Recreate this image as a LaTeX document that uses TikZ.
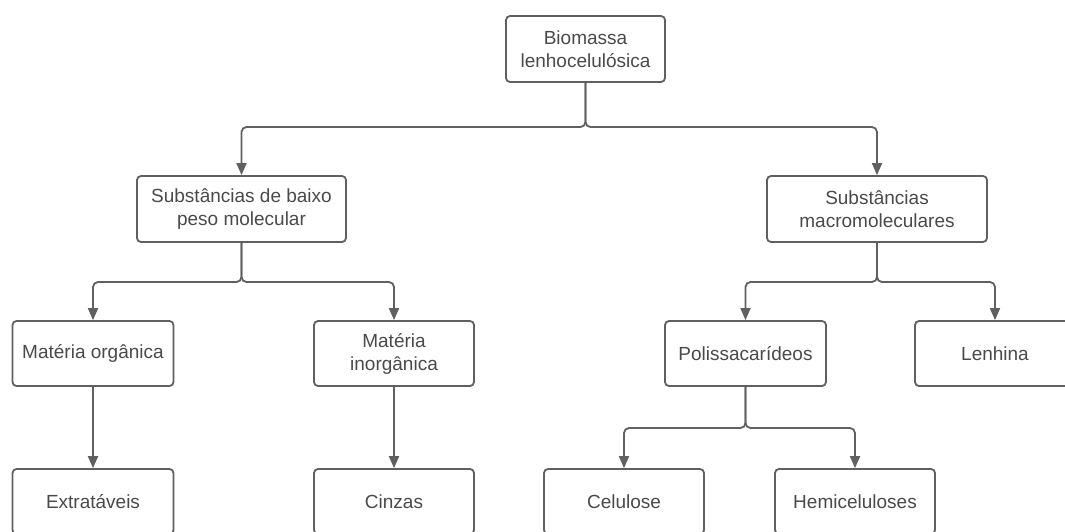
\documentclass[tikz,border=0pt]{standalone}
\usepackage{fontspec}
\setmainfont{Liberation Sans}
\usetikzlibrary{arrows.meta}
\definecolor{linec}{HTML}{606060}
\definecolor{textc}{HTML}{4A4A4A}
\begin{document}
\begin{tikzpicture}[x=1pt,y=-1pt,
  box/.style={draw=linec, line width=1.8pt, rounded corners=4pt, fill=white,
    minimum height=66pt, align=center, text=textc, inner sep=2pt,
    font=\fontsize{19}{23}\selectfont},
  conn/.style={draw=linec, line width=1.8pt, rounded corners=5pt,
    -{Triangle[width=10pt,length=12pt]}}]
\useasboundingbox (0,0) rectangle (1065,531);
\clip (0,0) rectangle (1065,531);
\fill[white] (0,0) rectangle (1065,531);
% nodes
\node[box, minimum width=159pt] (bio) at (585.5,49) {Biomassa\\lenhocelulósica};
\node[box, minimum width=209pt] (sbm) at (241.5,209) {Substâncias de baixo\\peso molecular};
\node[box, minimum width=220pt] (smm) at (877,209) {Substâncias\\macromoleculares};
\node[box, minimum width=161pt, minimum height=65pt] (morg) at (93,353.5) {Matéria orgânica};
\node[box, minimum width=160pt, minimum height=65pt] (minorg) at (394,353.5) {Matéria\\inorgânica};
\node[box, minimum width=161pt, minimum height=65pt] (poli) at (745.5,353.5) {Polissacarídeos};
\node[box, minimum width=160pt, minimum height=65pt] (lenh) at (995,353.5) {Lenhina};
\node[box, minimum width=161pt, minimum height=65pt] (extr) at (93,501.5) {Extratáveis};
\node[box, minimum width=160pt, minimum height=65pt] (cinz) at (394,501.5) {Cinzas};
\node[box, minimum width=160pt, minimum height=65pt] (celu) at (624,501.5) {Celulose};
\node[box, minimum width=160pt, minimum height=65pt] (hemi) at (855,501.5) {Hemiceluloses};
% junctions
\coordinate (j1) at (585.5,127);
\coordinate (j2) at (241.5,282);
\coordinate (j3) at (877,282);
\coordinate (j4) at (745.5,428);
% connectors
\draw[conn] (bio.south) -- (j1) -| (sbm.north);
\draw[conn] (bio.south) -- (j1) -| (smm.north);
\draw[conn] (sbm.south) -- (j2) -| (morg.north);
\draw[conn] (sbm.south) -- (j2) -| (minorg.north);
\draw[conn] (smm.south) -- (j3) -| (poli.north);
\draw[conn] (smm.south) -- (j3) -| (lenh.north);
\draw[conn] (morg.south) -- (extr.north);
\draw[conn] (minorg.south) -- (cinz.north);
\draw[conn] (poli.south) -- (j4) -| (celu.north);
\draw[conn] (poli.south) -- (j4) -| (hemi.north);
\end{tikzpicture}
\end{document}
